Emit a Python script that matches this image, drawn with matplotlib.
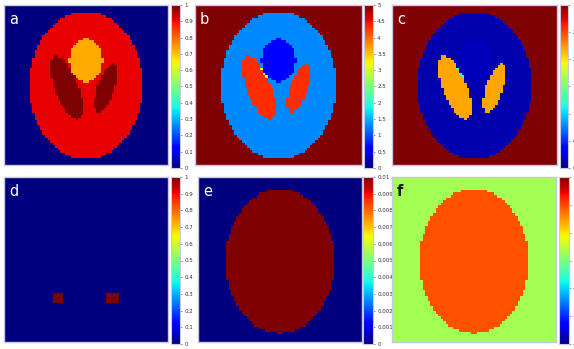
import numpy as np
import matplotlib
matplotlib.use("Agg")
import matplotlib.pyplot as plt

W, H = 574, 349
N = 64

# Phantom geometry: (cx, cy, semi-axis x, semi-axis y, angle deg)
outer_ellipse = (0.0, 0.0, 0.69, 0.92, 0)
inner_ellipse = (0.0, -0.0184, 0.6624, 0.874, 0)
left_ellipse = (-0.235, -0.03, 0.145, 0.42, 21)
right_ellipse = (0.245, -0.03, 0.104, 0.32, -18)
top_circle = (0.0, 0.31, 0.205, 0.27, 0)
squares = [(-0.35, -0.46, 0.065), (0.33, -0.46, 0.065)]

# Values per panel
panel_labels = ["a", "b", "c", "d", "e", "f"]
a_vals = dict(bg=0.0, outer=0.91, ellipses=1.0, circle=0.73, overlap=1.0)
b_vals = dict(bg=5.0, outer=1.3, ellipses=4.3, circle=0.6, overlap=3.0)
c_vals = dict(bg=3.0, outer=0.12, ellipses=2.2, circle=0.16, overlap=1.2)
d_vals = dict(bg=0.0, squares=1.0)
e_vals = dict(bg=0.0, inner=0.01)
f_vals = dict(bg=0.15, inner=0.97)

clims = [(0, 1), (0, 5), (0, 3), (0, 1), (0, 0.01), (-1.5, 1.5)]
cticks = [
    [0, 0.1, 0.2, 0.3, 0.4, 0.5, 0.6, 0.7, 0.8, 0.9, 1],
    [0, 0.5, 1, 1.5, 2, 2.5, 3, 3.5, 4, 4.5, 5],
    [0, 0.5, 1, 1.5, 2, 2.5, 3],
    [0, 0.1, 0.2, 0.3, 0.4, 0.5, 0.6, 0.7, 0.8, 0.9, 1],
    [0, 0.001, 0.002, 0.003, 0.004, 0.005, 0.006, 0.007, 0.008, 0.009, 0.01],
    [-1.5, -1, -0.5, 0, 0.5, 1, 1.5],
]
ctick_labels = [
    ["0", "0.1", "0.2", "0.3", "0.4", "0.5", "0.6", "0.7", "0.8", "0.9", "1"],
    ["0", "0.5", "1", "1.5", "2", "2.5", "3", "3.5", "4", "4.5", "5"],
    ["0", "0.5", "1", "1.5", "2", "2.5", "3"],
    ["0", "0.1", "0.2", "0.3", "0.4", "0.5", "0.6", "0.7", "0.8", "0.9", "1"],
    ["0", "0.001", "0.002", "0.003", "0.004", "0.005", "0.006", "0.007", "0.008", "0.009", "0.01"],
    ["-1.5", "-1", "-0.5", "0", "0.5", "1", "1.5"],
]

c = (np.arange(N) + 0.5) / N * 2 - 1
X, Y = np.meshgrid(c, c)


def ell_mask(e, grow=1.0):
    cx, cy, ax_, by, ang = e
    t = np.deg2rad(ang)
    dx, dy = X - cx, Y - cy
    u = dx * np.cos(t) + dy * np.sin(t)
    v = -dx * np.sin(t) + dy * np.cos(t)
    return (u / (ax_ * grow)) ** 2 + (v / (by * grow)) ** 2 <= 1


def head_image(vals):
    img = np.full((N, N), vals["bg"])
    img[ell_mask(outer_ellipse)] = vals["outer"]
    ell = ell_mask(left_ellipse)
    ell_r = ell_mask(right_ellipse)
    circ = ell_mask(top_circle)
    ring = ell_mask(top_circle, 1.08) & ~circ
    img[ell | ell_r] = vals["ellipses"]
    img[ell & ring] = vals["overlap"]
    img[circ] = vals["circle"]
    return img


def squares_image(vals):
    img = np.full((N, N), vals["bg"])
    for sx, sy, h in squares:
        img[(np.abs(X - sx) <= h) & (np.abs(Y - sy) <= h)] = vals["squares"]
    return img


def inner_image(vals):
    img = np.full((N, N), vals["bg"])
    img[ell_mask(inner_ellipse)] = vals["inner"]
    return img


images = [head_image(a_vals), head_image(b_vals), head_image(c_vals),
          squares_image(d_vals), inner_image(e_vals), inner_image(f_vals)]

img_boxes = [(4, 5, 168, 165), (195, 5, 362, 165), (392, 5, 557, 165),
             (4, 177, 168, 342), (198, 177, 362, 342), (392, 177, 556, 342)]
cb_boxes = [(171, 5, 180, 168), (364, 5, 373, 168), (560, 5, 568, 168),
            (171, 177, 180, 344), (363, 177, 373, 344), (559, 177, 569, 344)]
label_colors = ["white", "white", "white", "white", "white", "#1a1a1a"]

fig = plt.figure(figsize=(W / 100, H / 100), dpi=100)
fig.patch.set_facecolor("white")


def add_px(box):
    x0, y0, x1, y1 = box
    return fig.add_axes([x0 / W, 1 - y1 / H, (x1 - x0) / W, (y1 - y0) / H])


border = "#c8c8e0"
for i in range(6):
    ax = add_px(img_boxes[i])
    vmin, vmax = clims[i]
    im = ax.imshow(images[i], cmap="jet", vmin=vmin, vmax=vmax, origin="lower",
                   extent=(-1, 1, -1, 1), aspect="auto", interpolation="nearest")
    ax.set_xticks([])
    ax.set_yticks([])
    for s in ax.spines.values():
        s.set_color(border)
        s.set_linewidth(1.0)
    ax.text(0.03, 0.955, panel_labels[i], transform=ax.transAxes, color=label_colors[i],
            fontsize=10.5, ha="left", va="top",
            fontweight="bold" if panel_labels[i] == "f" else "normal")

    cax = add_px(cb_boxes[i])
    cb = fig.colorbar(im, cax=cax)
    cb.set_ticks(cticks[i])
    cb.set_ticklabels(ctick_labels[i])
    cax.tick_params(labelsize=4, length=1.5, width=0.4, pad=1.5, colors="#333333")
    cb.outline.set_edgecolor(border)
    cb.outline.set_linewidth(0.8)

fig.savefig("out.png", dpi=100)
